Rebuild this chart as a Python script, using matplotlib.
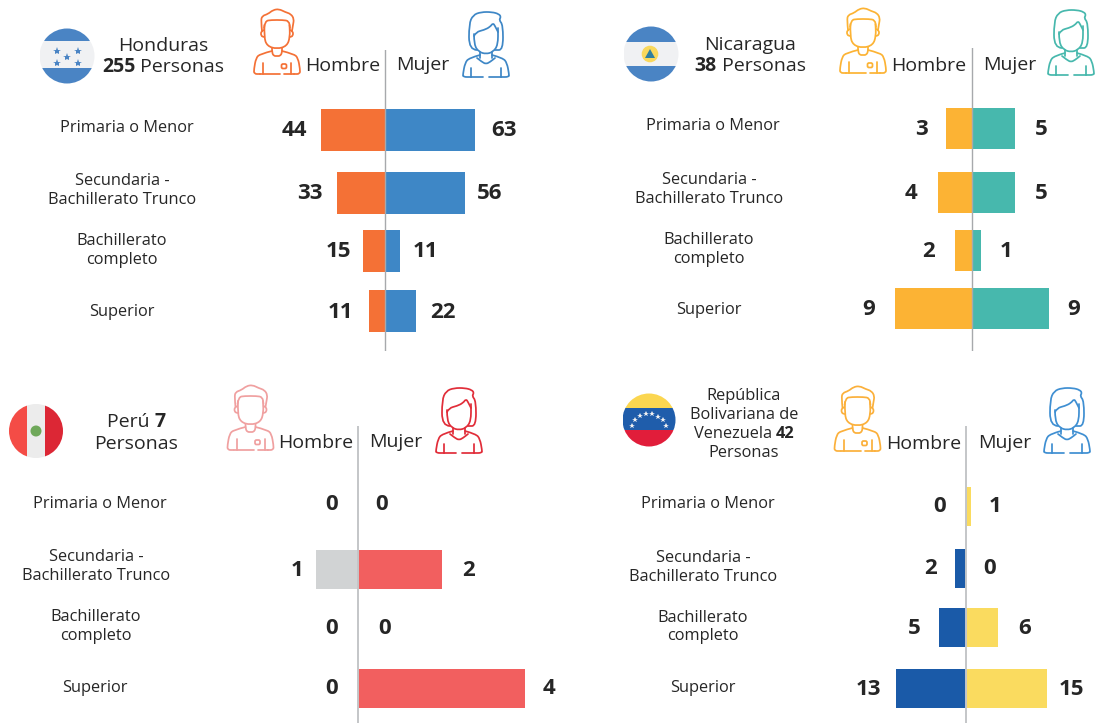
#!/usr/bin/python3

import matplotlib
matplotlib.use('Agg')
import matplotlib.pyplot as plt
from matplotlib.patches import Circle, PathPatch, Rectangle, Polygon, FancyBboxPatch
from matplotlib.path import Path

W, H = 1096, 723

niveles = ['Primaria o Menor', 'Secundaria -\nBachillerato Trunco', 'Bachillerato\ncompleto', 'Superior']

honduras_h = [44, 33, 15, 11]
honduras_m = [63, 56, 11, 22]
nicaragua_h = [3, 4, 2, 9]
nicaragua_m = [5, 5, 1, 9]
peru_h = [0, 1, 0, 0]
peru_m = [0, 2, 0, 4]
venezuela_h = [0, 2, 5, 13]
venezuela_m = [1, 0, 6, 15]

TEXTO = '#262626'

plt.rcParams['font.family'] = ['Open Sans', 'DejaVu Sans']

fig = plt.figure(figsize=(W / 100, H / 100), dpi=100)
bg = fig.add_axes([0, 0, 1, 1])
bg.set_xlim(0, W)
bg.set_ylim(H, 0)
bg.axis('off')


def curva(puntos):
    # smooth line through the midpoints of a hand placed outline
    verts = [puntos[0]]
    codes = [Path.MOVETO]
    for i in range(1, len(puntos) - 1):
        medio = ((puntos[i][0] + puntos[i + 1][0]) / 2, (puntos[i][1] + puntos[i + 1][1]) / 2)
        verts += [puntos[i], medio]
        codes += [Path.CURVE3, Path.CURVE3]
    verts.append(puntos[-1])
    codes.append(Path.LINETO)
    return Path(verts, codes)


def trazos(cx, top, color, lineas, lw=1.25):
    for linea in lineas:
        pts = [(cx + x, top + y) for x, y in linea]
        bg.add_patch(PathPatch(curva(pts), fill=False, edgecolor=color, lw=lw, capstyle='round', joinstyle='round'))


def espejo(linea):
    return [(-x, y) for x, y in linea]


def hombre_icono(cx, top, color):
    hombro = [(-5, 42), (-17, 45), (-21, 49), (-23, 60), (-23, 65), (-17, 65)]
    cara = [(-12.5, 16), (-13, 28), (-10, 37), (0, 40), (10, 37), (13, 28), (12.5, 16)]
    pelo = [(-15, 22), (-16, 12), (-15, 7), (-9, 5), (-4, 1), (2, 0), (8, 3), (14, 5), (17, 10), (16, 16), (15, 22)]
    frente = [(-13, 19), (-12, 12), (-6, 11), (6, 11), (12, 12), (13, 19)]
    cuello = [(-5, 39), (-5, 44), (-3, 47), (0, 47), (3, 47), (5, 44), (5, 39)]
    oreja = [(-13, 21), (-16, 22), (-16, 27), (-13, 28)]
    brazo = [(-14, 54), (-14, 65)]
    abajo = [(-17, 65), (3, 65)]
    abajo2 = [(7, 65), (17, 65)]
    trazos(cx, top, color, [hombro, espejo(hombro), cara, pelo, frente, cuello, oreja, espejo(oreja),
                            brazo, espejo(brazo), abajo, abajo2])
    bg.add_patch(FancyBboxPatch((cx + 4.5, top + 55), 5, 4.5, boxstyle='round,pad=0,rounding_size=1.5',
                                fill=False, edgecolor=color, lw=1.25))


def mujer_icono(cx, top, color):
    pelo = [(-9, 38), (-17, 38), (-17, 12), (-13, 3), (-5, 0), (6, 0), (13, 2), (15, 5), (13, 8), (17, 13), (17, 38), (9, 38)]
    cara = [(-12, 22), (-12, 33), (-7, 40), (0, 42), (7, 40), (12, 33), (12, 16)]
    flequillo = [(-12, 24), (-10, 20), (-2, 18), (4, 15), (7, 11), (9, 14), (12, 20)]
    cuello = [(-6, 40), (-6, 46)]
    cuello_v = [(-9, 46), (-4, 50), (0, 52), (4, 50), (9, 46)]
    hombro = [(-6, 43), (-17, 46), (-21, 51), (-23, 62), (-23, 65), (-15, 65)]
    brazo = [(-15, 56), (-15, 65)]
    abajo = [(-15, 65), (-3, 65)]
    trazos(cx, top, color, [pelo, cara, flequillo, cuello, espejo(cuello), cuello_v, hombro, espejo(hombro),
                            brazo, espejo(brazo), abajo, espejo(abajo)])


def franjas(cx, cy, r, colores, cortes):
    # horizontal bands clipped to the round flag, cortes are the band edges
    disco = Circle((cx, cy), r, facecolor='none', edgecolor='none')
    bg.add_patch(disco)
    for c, y0, y1 in zip(colores, cortes[:-1], cortes[1:]):
        rect = Rectangle((cx - r, y0), 2 * r, y1 - y0, facecolor=c, edgecolor='none')
        bg.add_patch(rect)
        rect.set_clip_path(disco)


def linea_mixta(xc, y, partes, size):
    # regular and bold pieces on one centred line
    render = fig.canvas.get_renderer()
    piezas = [bg.text(0, y, t, fontsize=size, fontweight='bold' if b else 'normal', color=TEXTO, va='center', ha='left')
              for t, b in partes]
    anchos = [p.get_window_extent(render).width for p in piezas]
    x = xc - sum(anchos) / 2
    for p, a in zip(piezas, anchos):
        p.set_x(x)
        x += a


def panel(cx, y0, y1, escala, filas, alto, valores_h, valores_m, col_h, col_m, eje_col, eje_lw, x0, x1, labels_x, labels_y, off_h, off_m):
    ax = fig.add_axes([x0 / W, 1 - y1 / H, (x1 - x0) / W, (y1 - y0) / H])
    ax.set_xlim((x0 - cx) / escala, (x1 - cx) / escala)
    ax.set_ylim(y1, y0)
    ax.axis('off')
    ax.barh(filas, [-v for v in valores_h], height=alto, color=col_h, linewidth=0)
    ax.barh(filas, valores_m, height=alto, color=col_m, linewidth=0)
    ax.axvline(0, color=eje_col, lw=eje_lw, zorder=5)
    for fila, vh, vm, oh, om in zip(filas, valores_h, valores_m, off_h, off_m):
        ax.annotate(str(vh), (-vh, fila), xytext=(oh, -1), textcoords='offset pixels', ha='center', va='center',
                    fontsize=16, fontweight='bold', color=TEXTO)
        ax.annotate(str(vm), (vm, fila), xytext=(om, -1), textcoords='offset pixels', ha='center', va='center',
                    fontsize=16, fontweight='bold', color=TEXTO)
    for nivel, lx, ly in zip(niveles, labels_x, labels_y):
        bg.text(lx, ly, nivel, ha='center', va='center', fontsize=11.8, color=TEXTO, linespacing=1.19)


# Honduras
panel(384.5, 50, 351, 1.44, [129.5, 192.5, 250.5, 311], 42, honduras_h, honduras_m, '#f47136', '#3e87c6',
      '#a7a9ac', 1.0, 230, 540, [127, 122, 122, 122], [127.5, 190.5, 250.5, 311.5],
      [-27, -27, -24, -28], [29, 24, 25, 27])
franjas(67, 56, 27.5, ['#4a84c4', '#f0f1f3', '#4a84c4'], [28, 41, 68, 84])
for sx, sy in [(-10.5, -5), (10.5, -5), (0, 1), (-10.5, 7), (10.5, 7)]:
    bg.plot(67 + sx, 56 + sy, marker='*', ms=6, color='#4a84c4', mew=0)
linea_mixta(163, 46, [('Honduras', False)], 14)
linea_mixta(163, 67, [('255', True), (' Personas', False)], 14)
hombre_icono(277, 9, '#f47136')
mujer_icono(486, 12, '#3e87c6')
bg.text(343, 66, 'Hombre', ha='center', va='center', fontsize=14, color=TEXTO)
bg.text(423, 65, 'Mujer', ha='center', va='center', fontsize=14, color=TEXTO)

# Nicaragua
panel(972, 48, 351, 8.6, [128.5, 192.5, 250, 308], 41, nicaragua_h, nicaragua_m, '#fcb334', '#47b8ad',
      '#a7a9ac', 1.0, 820, 1096, [713, 709, 709, 709], [126.5, 189.5, 249.5, 310.5],
      [-25, -27, -26, -26], [26, 26, 25, 24])
franjas(651, 54, 27.5, ['#4a84c4', '#f0f1f3', '#4a84c4'], [26, 42, 66, 82])
bg.add_patch(Circle((650, 54), 8.3, facecolor='#f9d85c', edgecolor='none'))
bg.add_patch(Polygon([(645, 58), (650, 49), (655, 58)], facecolor='#2f7f9f', edgecolor='none'))
linea_mixta(750, 45, [('Nicaragua', False)], 14)
linea_mixta(750, 66, [('38', True), (' Personas', False)], 14)
hombre_icono(863, 8, '#fcb334')
mujer_icono(1071, 10, '#47b8ad')
bg.text(929, 66, 'Hombre', ha='center', va='center', fontsize=14, color=TEXTO)
bg.text(1010, 65, 'Mujer', ha='center', va='center', fontsize=14, color=TEXTO)

# Peru
panel(358, 426, 723, 41.8, [504, 569.5, 628, 688], 39, peru_h, peru_m, '#d1d3d4', '#f25f5f',
      '#c4c6c8', 1.4, 210, 570, [100, 96, 96, 95], [503.5, 566.5, 626.5, 687.5],
      [-26, -19, -26, -26], [24, 27, 27, 24])
disco = Circle((36, 431), 27, facecolor='none', edgecolor='none')
bg.add_patch(disco)
for xp, ancho, c in [(9, 18, '#f44c46'), (27, 18, '#ececec'), (45, 18, '#dc2735')]:
    rect = Rectangle((xp, 404), ancho, 54, facecolor=c, edgecolor='none')
    bg.add_patch(rect)
    rect.set_clip_path(disco)
bg.add_patch(Circle((36, 431), 5.5, facecolor='#6fa85a', edgecolor='none'))
linea_mixta(136, 422, [('Perú ', False), ('7', True)], 14)
linea_mixta(136, 444, [('Personas', False)], 14)
hombre_icono(250.5, 385, '#f0a0a0')
mujer_icono(459, 388, '#e12d39')
bg.text(316, 443, 'Hombre', ha='center', va='center', fontsize=14, color=TEXTO)
bg.text(396, 442, 'Mujer', ha='center', va='center', fontsize=14, color=TEXTO)

# Venezuela
panel(966, 426, 723, 5.4, [506, 568, 627.5, 688.5], 39, venezuela_h, venezuela_m, '#1a5aa8', '#fadb5f',
      '#c4c6c8', 1.4, 820, 1096, [708, 703, 703, 703], [504.5, 567.5, 627, 688.5],
      [-26, -25, -25, -27], [24, 24, 26, 24])
franjas(649, 420, 26.5, ['#fbd650', '#1f5dab', '#e11d3a'], [393, 408, 430, 447])
for sx, sy in [(-17, 6.3), (-13.7, 0.7), (-8.7, -3.7), (-2.7, -5.3), (3, -5.3), (8.7, -3), (13.7, 0.7), (17, 6.3)]:
    bg.plot(649 + sx, 419.5 + sy, marker='*', ms=4, color='#f2f2f2', mew=0)
linea_mixta(744, 396, [('República', False)], 11.8)
linea_mixta(744, 415, [('Bolivariana de', False)], 11.8)
linea_mixta(744, 434, [('Venezuela ', False), ('42', True)], 11.8)
linea_mixta(744, 453, [('Personas', False)], 11.8)
hombre_icono(857.5, 386, '#fbb03b')
mujer_icono(1067, 388, '#3f8fd2')
bg.text(924, 444, 'Hombre', ha='center', va='center', fontsize=14, color=TEXTO)
bg.text(1004.5, 443, 'Mujer', ha='center', va='center', fontsize=14, color=TEXTO)

fig.savefig('out.png', dpi=100)
